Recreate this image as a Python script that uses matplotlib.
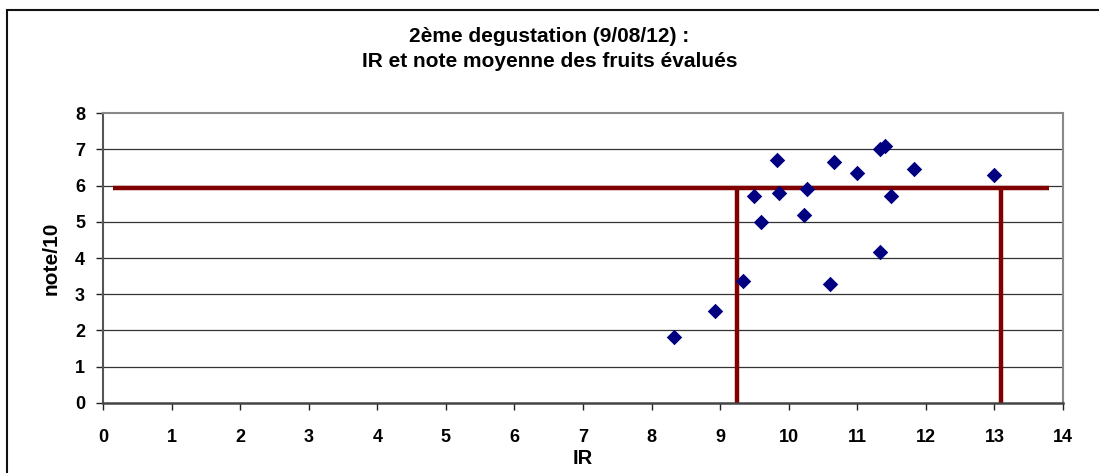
import matplotlib
matplotlib.use("Agg")
import matplotlib.pyplot as plt
from matplotlib.patches import Rectangle

plt.rcParams['font.family'] = ['Liberation Sans', 'DejaVu Sans']

# Data
ir = [8.33, 8.93, 9.33, 9.49, 9.60, 9.83, 9.86, 10.22, 10.26, 10.60,
      10.66, 11.00, 11.33, 11.33, 11.40, 11.49, 11.83, 13.00]
note = [1.81, 2.54, 3.36, 5.72, 4.99, 6.72, 5.81, 5.18, 5.91, 3.28,
        6.64, 6.36, 4.17, 7.01, 7.10, 5.72, 6.46, 6.30]

hline_y = 5.94
hline_x = [0.15, 13.79]
vlines_x = [9.24, 13.09]

x_ticks = list(range(0, 15))
y_ticks = list(range(0, 9))
title = "2ème degustation (9/08/12) :\nIR et note moyenne des fruits évalués"

W, H = 1099, 473
fig = plt.figure(figsize=(W / 100, H / 100), dpi=100)
ax = fig.add_axes([103 / W, (H - 402.7) / H, (1063 - 103) / W, (402.7 - 113.3) / H])

# outer chart frame (cut off at right/bottom)
fig.add_artist(Rectangle((7 / W, -0.1), 1.2, (H - 10) / H + 0.1,
                         transform=fig.transFigure, fill=False,
                         edgecolor='#111111', linewidth=1.5))

ax.set_xlim(0, 14)
ax.set_ylim(0, 8)

# gridlines
for yv in y_ticks[1:-1]:
    ax.axhline(yv, color='#333333', linewidth=0.9, zorder=1)

# red reference lines
ax.plot(hline_x, [hline_y, hline_y], color='#800000', linewidth=3.2,
        solid_capstyle='butt', zorder=2)
for xv in vlines_x:
    ax.plot([xv, xv], [0, hline_y], color='#800000', linewidth=3.2,
            solid_capstyle='butt', zorder=2)

ax.scatter(ir, note, marker='D', s=62, color='#000080', zorder=3,
           linewidths=0)

ax.set_xticks(x_ticks)
ax.set_yticks(y_ticks)
ax.tick_params(axis='both', direction='out', length=5, width=1,
               color='#222222', labelsize=13)
ax.tick_params(axis='x', pad=14)
ax.tick_params(axis='y', pad=8)
for lab in ax.get_xticklabels() + ax.get_yticklabels():
    lab.set_fontweight('bold')

for s in ['top', 'right']:
    ax.spines[s].set_color('#888888')
    ax.spines[s].set_linewidth(1.5)
ax.spines['left'].set_color('#555555')
ax.spines['left'].set_linewidth(1.5)
ax.spines['bottom'].set_color('#444444')
ax.spines['bottom'].set_linewidth(1.8)

ax.set_xlabel('IR', fontsize=14.5, fontweight='bold', labelpad=2)
ax.set_ylabel('note/10', fontsize=15, fontweight='bold', labelpad=10)

fig.text(0.5, (H - 49) / H, title, ha='center', va='center',
         fontsize=15, fontweight='bold', linespacing=1.4)

fig.savefig('out.png', dpi=100)
